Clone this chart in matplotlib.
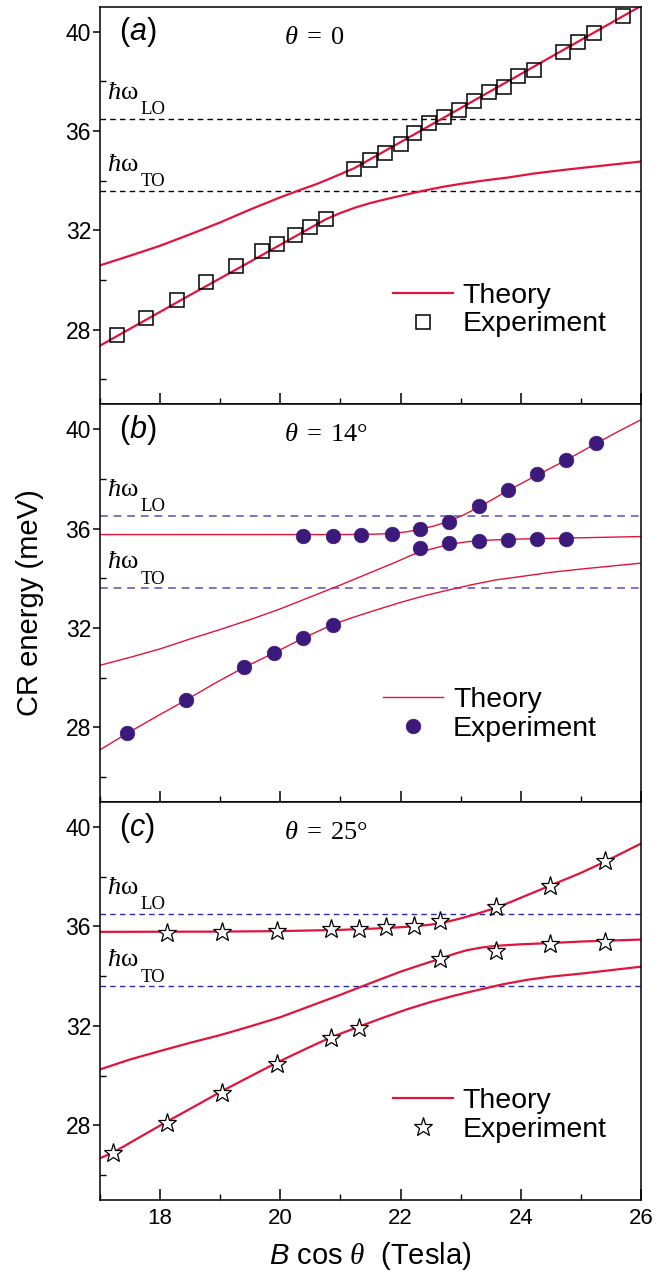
import matplotlib
matplotlib.use("Agg")
import matplotlib.pyplot as plt
from matplotlib.ticker import MultipleLocator

plt.rcParams['font.family'] = ['Liberation Sans', 'DejaVu Sans']
plt.rcParams['mathtext.fontset'] = 'custom'
plt.rcParams['mathtext.rm'] = 'Liberation Serif'
plt.rcParams['mathtext.it'] = 'Liberation Serif:italic'
plt.rcParams['mathtext.sf'] = 'Liberation Sans:italic'

# ---------------- data ----------------
LO = 36.5
TO = 33.6

# panel (a) theta = 0
a_exp_x = [17.28, 17.77, 18.28, 18.76, 19.27, 19.70, 19.95, 20.25, 20.50, 20.76,
           21.23, 21.49, 21.74, 22.00, 22.22, 22.48, 22.73, 22.97, 23.23, 23.47,
           23.72, 23.96, 24.22, 24.71, 24.96, 25.21, 25.70]
a_exp_y = [27.77, 28.49, 29.20, 29.94, 30.57, 31.18, 31.47, 31.83, 32.12, 32.47,
           34.48, 34.83, 35.12, 35.48, 35.91, 36.31, 36.55, 36.86, 37.20, 37.55,
           37.77, 38.20, 38.47, 39.16, 39.56, 39.93, 40.63]
a_up_x = [17.0, 17.5, 18.0, 18.5, 19.0, 19.5, 20.0, 20.3, 20.6, 20.9, 21.23,
          22.0, 23.0, 24.0, 25.0, 26.0]
a_up_y = [30.59, 30.98, 31.38, 31.84, 32.32, 32.84, 33.33, 33.60, 33.86, 34.16, 34.50,
          35.55, 36.92, 38.29, 39.66, 41.03]
a_lo_x = [17.0, 17.5, 18.0, 18.5, 19.0, 19.5, 20.0, 20.5, 20.76, 21.0, 21.25, 21.5,
          21.75, 22.0, 22.37, 22.7, 23.0, 23.4, 23.8, 24.2, 24.6, 25.0, 25.5, 26.0]
a_lo_y = [27.36, 28.04, 28.72, 29.40, 30.07, 30.74, 31.42, 32.10, 32.45, 32.70, 32.92, 33.10,
          33.25, 33.39, 33.59, 33.75, 33.87, 34.01, 34.13, 34.28, 34.40, 34.51, 34.64, 34.77]

# panel (b) theta = 14 deg
b_exp_x = [17.45, 18.43, 19.40, 19.89, 20.37, 20.87,
           20.37, 20.87, 21.35, 21.85, 22.32, 22.81, 23.30, 23.78, 24.27, 24.76, 25.25,
           22.32, 22.81, 23.30, 23.78, 24.27, 24.76]
b_exp_y = [27.76, 29.10, 30.42, 30.99, 31.58, 32.14,
           35.71, 35.72, 35.76, 35.79, 35.99, 36.27, 36.90, 37.55, 38.18, 38.74, 39.46,
           35.23, 35.43, 35.50, 35.55, 35.60, 35.60]
b_up_x = [17.0, 19.0, 21.0, 21.5, 21.85, 22.1, 22.32, 22.55, 22.81, 23.05, 23.3, 23.55,
          23.78, 24.27, 24.76, 25.25, 25.6, 26.0]
b_up_y = [35.76, 35.76, 35.76, 35.77, 35.80, 35.87, 35.97, 36.10, 36.30, 36.55, 36.86, 37.20,
          37.52, 38.15, 38.76, 39.42, 39.88, 40.38]
b_mid_x = [17.0, 17.5, 18.0, 18.5, 19.0, 19.5, 20.0, 20.5, 21.0, 21.5, 21.9, 22.2, 22.5,
           22.8, 23.1, 23.5, 24.0, 25.0, 26.0]
b_mid_y = [30.50, 30.82, 31.16, 31.56, 31.94, 32.34, 32.77, 33.25, 33.73, 34.23, 34.63, 34.95,
           35.17, 35.36, 35.47, 35.54, 35.58, 35.63, 35.68]
b_lo_x = [17.0, 17.45, 17.94, 18.43, 18.92, 19.40, 19.89, 20.37, 20.87, 21.2, 21.6, 22.0,
          22.4, 22.8, 23.2, 23.6, 24.0, 24.5, 25.0, 25.5, 26.0]
b_lo_y = [27.10, 27.76, 28.44, 29.10, 29.79, 30.42, 30.99, 31.58, 32.14, 32.42, 32.73, 33.03,
          33.30, 33.53, 33.75, 33.94, 34.07, 34.24, 34.37, 34.49, 34.61]

# panel (c) theta = 25 deg
c_exp_x = [17.22, 18.12, 19.03, 19.94, 20.84, 21.31,
           18.12, 19.03, 19.94, 20.84, 21.31, 21.75, 22.22, 22.66, 23.58, 24.49, 25.40,
           22.66, 23.58, 24.49, 25.40]
c_exp_y = [26.88, 28.09, 29.32, 30.46, 31.50, 31.93,
           35.73, 35.77, 35.80, 35.88, 35.90, 35.96, 36.00, 36.21, 36.77, 37.64, 38.63,
           34.67, 35.03, 35.29, 35.38]
c_up_x = [17.0, 19.0, 20.0, 21.0, 21.75, 22.22, 22.5, 22.75, 23.0, 23.25, 23.5, 23.75,
          24.0, 24.25, 24.49, 25.0, 25.4, 26.0]
c_up_y = [35.78, 35.79, 35.81, 35.86, 35.93, 36.00, 36.07, 36.17, 36.32, 36.49, 36.68, 36.90,
          37.15, 37.40, 37.64, 38.15, 38.60, 39.33]
c_mid_x = [17.0, 17.5, 18.06, 18.5, 19.0, 19.5, 20.0, 20.5, 21.0, 21.5, 22.0, 22.4, 22.66,
           22.9, 23.1, 23.35, 23.6, 24.0, 24.5, 25.0, 26.0]
c_mid_y = [30.25, 30.65, 31.03, 31.32, 31.63, 31.98, 32.35, 32.80, 33.25, 33.72, 34.18, 34.50,
           34.70, 34.90, 35.04, 35.15, 35.22, 35.28, 35.33, 35.39, 35.47]
c_lo_x = [17.0, 17.22, 17.7, 18.12, 18.6, 19.03, 19.5, 19.94, 20.4, 20.84, 21.31, 21.7, 22.1,
          22.5, 22.9, 23.3, 23.7, 24.1, 24.5, 25.0, 25.5, 26.0]
c_lo_y = [26.68, 26.91, 27.58, 28.16, 28.80, 29.38, 29.97, 30.52, 31.05, 31.54, 31.97, 32.32,
          32.66, 32.96, 33.22, 33.45, 33.67, 33.85, 33.98, 34.10, 34.24, 34.38]

x_ticks = [18, 20, 22, 24, 26]
y_ticks = [28, 32, 36, 40]

RED = '#e0143c'

# ---------------- figure ----------------
fig = plt.figure(figsize=(6.72, 12.79), dpi=100)
W, H = 672, 1279
left, right = 100, 641
tops = [6.7, 404.3, 802.0]
bots = [404.3, 802.0, 1200.0]

axes = []
for t, b in zip(tops, bots):
    ax = fig.add_axes([left / W, 1 - b / H, (right - left) / W, (b - t) / H])
    axes.append(ax)

panel_cfg = [
    dict(label='a', theta=r'$\theta\;=\;0$', lw=1.6, dcol='black', dlw=1.0, dash=(4, 3),
         ex=a_exp_x, ey=a_exp_y, curves=[(a_up_x, a_up_y), (a_lo_x, a_lo_y)],
         mk=dict(marker='s', ms=9.5, mfc='none', mec='black', mew=1.1),
         leg=(0.739, 0.237)),
    dict(label='b', theta=r'$\theta\;=\;14°$', lw=1.0, dcol='#7f74c2', dlw=1.4, dash=(4, 3),
         ex=b_exp_x, ey=b_exp_y, curves=[(b_up_x, b_up_y), (b_mid_x, b_mid_y), (b_lo_x, b_lo_y)],
         mk=dict(marker='o', ms=10.5, mfc='#3c1a7c', mec='#3c1a7c', mew=0.5),
         leg=(0.721, 0.22)),
    dict(label='c', theta=r'$\theta\;=\;25°$', lw=1.6, dcol='#2b2ba8', dlw=1.0, dash=(4, 3),
         ex=c_exp_x, ey=c_exp_y, curves=[(c_up_x, c_up_y), (c_mid_x, c_mid_y), (c_lo_x, c_lo_y)],
         mk=dict(marker='*', ms=14, mfc='white', mec='black', mew=0.9),
         leg=(0.739, 0.212)),
]

for i, (ax, cfg) in enumerate(zip(axes, panel_cfg)):
    ax.set_xlim(17, 26)
    ax.set_ylim(25, 41)
    for j in (LO, TO):
        ax.axhline(j, color=cfg['dcol'], lw=cfg['dlw'], dashes=cfg['dash'], zorder=1)
    th = None
    for k, (cx, cy) in enumerate(cfg['curves']):
        l, = ax.plot(cx, cy, color=RED, lw=cfg['lw'], zorder=2,
                     label='Theory' if k == 0 else None)
        if k == 0:
            th = l
    ex, = ax.plot(cfg['ex'], cfg['ey'], ls='none', zorder=3, label='Experiment', **cfg['mk'])
    ax.legend(handles=[th, ex], loc='center', bbox_to_anchor=cfg['leg'],
              frameon=False, fontsize=20.5, handlelength=2.1, handletextpad=0.35,
              labelspacing=0.1, borderpad=0.2)

    ax.text(0.035, 0.978, '(' + r'$\mathsf{' + cfg['label'] + '}$' + ')', transform=ax.transAxes,
            fontsize=22, ha='left', va='top')
    ax.text(0.34, 0.955, cfg['theta'], transform=ax.transAxes, fontsize=19,
            ha='left', va='top')
    # phonon energy labels: hbar-omega with a deep subscript
    for base, sub, sub_y in ((37.3, 'LO', 36.7), (34.4, 'TO', 33.77)):
        ax.text(17.12, base, r'$\hbar\mathrm{\omega}$', fontsize=19,
                ha='left', va='baseline')
        ax.text(17.67, sub_y, sub, fontsize=13.5, family='Liberation Serif',
                ha='left', va='baseline')

    ax.xaxis.set_major_locator(MultipleLocator(2))
    ax.xaxis.set_minor_locator(MultipleLocator(1))
    ax.yaxis.set_minor_locator(MultipleLocator(2))
    ax.set_yticks(y_ticks)
    ax.tick_params(axis='x', which='major', direction='in', length=8, width=1.1,
                   labelsize=16, pad=6, top=False)
    ax.tick_params(axis='x', which='minor', direction='in', length=4, width=1.0, top=False)
    ax.tick_params(axis='y', which='major', direction='out', length=5, width=1.1,
                   labelsize=16.5, pad=1.5, right=False)
    ax.tick_params(axis='y', which='minor', direction='in', length=4, width=1.0, right=False)
    for s in ax.spines.values():
        s.set_linewidth(1.1)
    if i < 2:
        ax.tick_params(axis='x', labelbottom=False)
    else:
        ax.set_xticks(x_ticks)
        ax.set_xlabel(r'$\mathsf{B}$ cos $\theta$  (Tesla)', fontsize=21, labelpad=8)

fig.text(30 / W, 1 - 603 / H, 'CR energy (meV)', rotation=90, fontsize=21,
         ha='center', va='center')

fig.savefig('out.png', dpi=100)
